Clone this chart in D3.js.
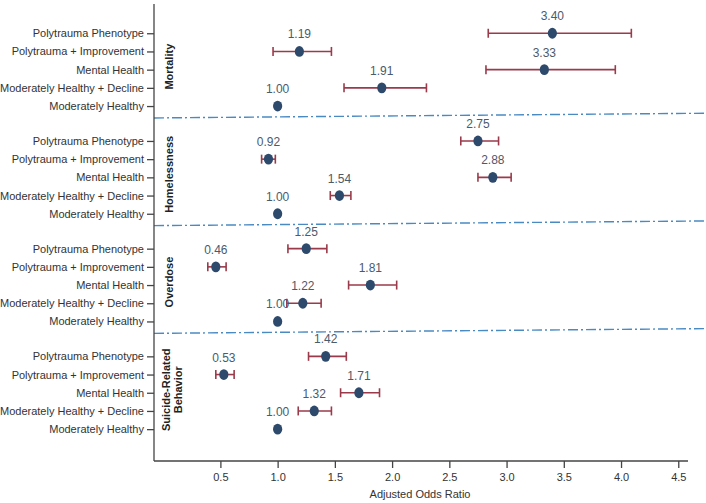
<!DOCTYPE html>
<html>
<head>
<meta charset="utf-8">
<script src="https://cdn.jsdelivr.net/npm/d3@7"></script>
<style>
  body { margin: 0; background: #fff; }
  text { font-family: "Liberation Sans", Arial, sans-serif; }
  .axis path, .axis line { stroke: #444; stroke-width: 1.3; }
  .axis text { fill: #333; font-size: 11px; }
</style>
</head>
<body>
<div class="canva"></div>
<script>
// outcomes (panels) and phenotypes (rows)
var outcomes = ['Mortality', 'Homelessness', 'Overdose', 'Suicide-Related Behavior'];
var phenotypes = ['Polytrauma Phenotype', 'Polytrauma + Improvement', 'Mental Health',
                  'Moderately Healthy + Decline', 'Moderately Healthy'];

// adjusted odds ratios + 95% CI, in phenotype order
var mortalityOR   = [3.40, 1.19, 3.33, 1.91, 1.00];
var mortalityLow  = [2.84, 0.96, 2.82, 1.58, null];
var mortalityHigh = [4.09, 1.47, 3.95, 2.30, null];

var homelessOR   = [2.75, 0.92, 2.88, 1.54, 1.00];
var homelessLow  = [2.60, 0.86, 2.75, 1.46, null];
var homelessHigh = [2.93, 0.98, 3.04, 1.64, null];

var overdoseOR   = [1.25, 0.46, 1.81, 1.22, 1.00];
var overdoseLow  = [1.09, 0.39, 1.62, 1.08, null];
var overdoseHigh = [1.43, 0.55, 2.04, 1.38, null];

var suicideOR   = [1.42, 0.53, 1.71, 1.32, 1.00];
var suicideLow  = [1.27, 0.46, 1.55, 1.18, null];
var suicideHigh = [1.60, 0.62, 1.89, 1.47, null];

var xTicks = [0.5, 1.0, 1.5, 2.0, 2.5, 3.0, 3.5, 4.0, 4.5];

var groups = [
  {name: outcomes[0], or: mortalityOR, lo: mortalityLow, hi: mortalityHigh},
  {name: outcomes[1], or: homelessOR, lo: homelessLow, hi: homelessHigh},
  {name: outcomes[2], or: overdoseOR, lo: overdoseLow, hi: overdoseHigh},
  {name: outcomes[3], or: suicideOR, lo: suicideLow, hi: suicideHigh}
];

var rows = [];
groups.forEach(g => {
  phenotypes.forEach((p, i) => {
    rows.push({group: g.name, pheno: p, or: g.or[i], lo: g.lo[i], hi: g.hi[i]});
  });
});

const svg = d3.select('.canva').append('svg')
    .attr('width', 706)
    .attr('height', 503);

const plot = {left: 154, right: 688, top: 4, bottom: 461};

var x = d3.scaleLinear()
    .domain([-0.08, 4.585])
    .range([plot.left, plot.right]);

var yGroup = d3.scaleBand()
    .domain(outcomes)
    .range([15.8, 446.6]);

var yRow = d3.scalePoint()
    .domain(phenotypes)
    .range([-36.4, 36.4]);

const groupMid = o => yGroup(o) + yGroup.bandwidth() / 2;
const yPos = d => groupMid(d.group) + yRow(d.pheno);

// separators between panels
svg.selectAll('line.sep')
    .data(outcomes.slice(0, 3))
    .enter().append('line')
    .attr('class', 'sep')
    .attr('x1', plot.left)
    .attr('x2', 704)
    .attr('y1', d => groupMid(d) + 48.3)
    .attr('y2', d => groupMid(d) + 43.6)
    .attr('stroke', '#4a8ac2')
    .attr('stroke-width', 1.4)
    .attr('stroke-dasharray', '10,3,2,3');

// y axis line + row ticks
svg.append('line')
    .attr('x1', plot.left).attr('x2', plot.left)
    .attr('y1', plot.top).attr('y2', plot.bottom)
    .attr('stroke', '#444').attr('stroke-width', 1.3);

outcomes.forEach(o => {
  var ax = svg.append('g')
      .attr('class', 'axis')
      .attr('transform', `translate(${plot.left},${groupMid(o)})`)
      .call(d3.axisLeft(yRow).tickSize(7).tickPadding(3));
  ax.select('.domain').remove();
});

// x axis
var xAxis = svg.append('g')
    .attr('class', 'axis')
    .attr('transform', `translate(0,${plot.bottom})`)
    .call(d3.axisBottom(x).tickValues(xTicks).tickFormat(d3.format('.1f')).tickSize(7).tickPadding(5));
xAxis.select('.domain').attr('d', `M${plot.left},0H${plot.right}`);

svg.append('text')
    .attr('x', 420)
    .attr('y', 498)
    .attr('text-anchor', 'middle')
    .attr('fill', '#333')
    .style('font-size', '11px')
    .text('Adjusted Odds Ratio');

// panel labels (rotated)
outcomes.forEach(o => {
  var parts = o === 'Suicide-Related Behavior' ? ['Suicide-Related', 'Behavior'] : [o];
  var t = svg.append('text')
      .attr('transform', `translate(${parts.length > 1 ? 170 : 173},${groupMid(o) - 3}) rotate(-90)`)
      .attr('text-anchor', 'middle')
      .attr('fill', '#222')
      .style('font-size', '11px')
      .style('font-weight', 'bold');
  parts.forEach((p, i) => {
    t.append('tspan').attr('x', 0).attr('dy', i === 0 ? 0 : 12).text(p);
  });
});

// confidence intervals
var ci = rows.filter(d => d.lo != null);
var bars = svg.selectAll('g.ci')
    .data(ci)
    .enter().append('g')
    .attr('class', 'ci')
    .attr('stroke', '#9a3a4a')
    .attr('stroke-width', 1.6);
bars.append('line')
    .attr('x1', d => x(d.lo)).attr('x2', d => x(d.hi))
    .attr('y1', yPos).attr('y2', yPos);
bars.append('line')
    .attr('x1', d => x(d.lo)).attr('x2', d => x(d.lo))
    .attr('y1', d => yPos(d) - 4.5).attr('y2', d => yPos(d) + 4.5);
bars.append('line')
    .attr('x1', d => x(d.hi)).attr('x2', d => x(d.hi))
    .attr('y1', d => yPos(d) - 4.5).attr('y2', d => yPos(d) + 4.5);

// dots
svg.selectAll('ellipse.dot')
    .data(rows)
    .enter().append('ellipse')
    .attr('class', 'dot')
    .attr('cx', d => x(d.or))
    .attr('cy', yPos)
    .attr('rx', 4.6)
    .attr('ry', 5.4)
    .attr('fill', '#2d4a6c');

// value labels
svg.selectAll('text.val')
    .data(rows)
    .enter().append('text')
    .attr('class', 'val')
    .attr('x', d => x(d.or))
    .attr('y', d => yPos(d) - 13)
    .attr('text-anchor', 'middle')
    .attr('fill', '#4b5a6c')
    .style('font-size', '12px')
    .text(d => d.or.toFixed(2));
</script>
</body>
</html>
